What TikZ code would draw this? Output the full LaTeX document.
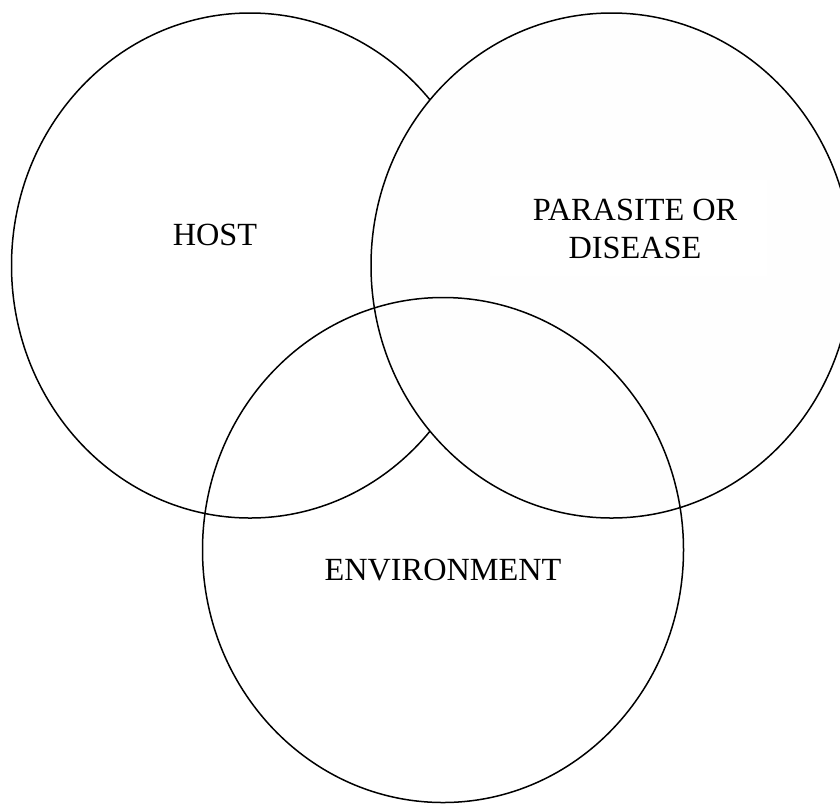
\documentclass[tikz,border=0pt]{standalone}
\usepackage{fontspec}
\setmainfont{Liberation Serif}
\begin{document}
\begin{tikzpicture}[x=1pt,y=-1pt,
  ring/.style={line width=1.5pt,draw=black},
  lbl/.style={font=\fontsize{32.3}{37.5}\selectfont,align=center,inner sep=0pt}]
\useasboundingbox (0,0) rectangle (840,804);
\fill[white] (0,0) rectangle (840,804);
% HOST circle
\draw[ring,fill=white] (250,265.5) ellipse [x radius=238.5,y radius=252.5];
% PARASITE circle (opaque, covers host)
\draw[ring,fill=black!0.5] (611.5,265.5) ellipse [x radius=240.5,y radius=252.5];
\fill[white] (490,180) rectangle (767,276);
% ENVIRONMENT circle (transparent)
\draw[ring] (443,550) ellipse [x radius=240.5,y radius=252.5];
\node[lbl] (host) at (215,235) {HOST};
\node[lbl] (para) at (635,229) {PARASITE OR\\DISEASE};
\node[lbl] (env) at (443,570) {ENVIRONMENT};
\end{tikzpicture}
\end{document}
